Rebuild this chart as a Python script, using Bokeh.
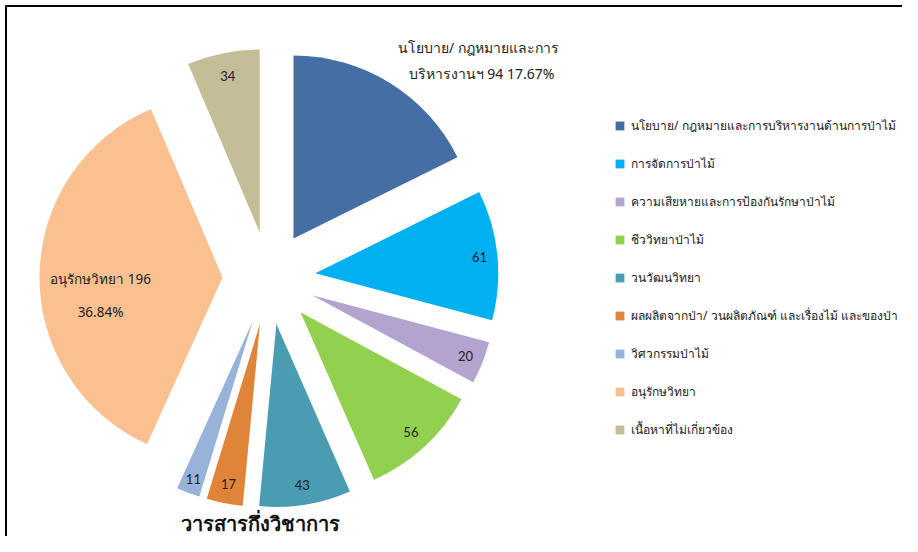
import math
from bokeh.plotting import figure
from bokeh.models import ColumnDataSource, Range1d, Legend, LegendItem
from bokeh.core.properties import value
from bokeh.embed import file_html
from bokeh.resources import INLINE

# ---------------- data ----------------
categories = [
    "นโยบาย/ กฎหมายและการบริหารงานด้านการป่าไม้",
    "การจัดการป่าไม้",
    "ความเสียหายและการป้องกันรักษาป่าไม้",
    "ชีววิทยาป่าไม้",
    "วนวัฒนวิทยา",
    "ผลผลิตจากป่า/ วนผลิตภัณฑ์ และเรื่องไม้ และของป่า",
    "วิศวกรรมป่าไม้",
    "อนุรักษวิทยา",
    "เนื้อหาที่ไม่เกี่ยวข้อง",
]
counts = [94, 61, 20, 56, 43, 17, 11, 196, 34]
colors = ["#456EA5", "#00B0F0", "#B3A3CF", "#92D050", "#4A9CB2",
          "#E0843A", "#98B2DA", "#FAC090", "#C4BD97"]
title_text = "วารสารกึ่งวิชาการ"

# ---------------- layout (screen pixels) ----------------
W, H = 902, 536
CX, CY = 268.5, 277.5     # pie centre
R = 183                   # radius
D = 46.5                  # explode distance
label_r = [0, 165, 165, 163, 163, 163, 168, 122, 160]

total = sum(counts)
xs, ys, starts, ends, lx, ly = [], [], [], [], [], []
cum = 0.0
for i, c in enumerate(counts):
    t1 = cum / total * 2 * math.pi
    cum += c
    t2 = cum / total * 2 * math.pi
    mid = (t1 + t2) / 2
    ax = CX + D * math.sin(mid)
    ay = CY - D * math.cos(mid)
    xs.append(ax)
    ys.append(-ay)
    starts.append(math.pi / 2 - t2)
    ends.append(math.pi / 2 - t1)
    lx.append(ax + label_r[i] * math.sin(mid))
    ly.append(-(ay - label_r[i] * math.cos(mid)))

src = ColumnDataSource(dict(x=xs, y=ys, start=starts, end=ends,
                            color=colors, cat=categories))

p = figure(width=W, height=H, output_backend="svg", toolbar_location=None,
           x_range=Range1d(0, W), y_range=Range1d(-H, 0),
           x_axis_type=None, y_axis_type=None, min_border=0)
p.grid.visible = False
p.outline_line_color = None
p.background_fill_color = "white"

r = p.wedge(x="x", y="y", radius=R, start_angle="start", end_angle="end",
            color="color", line_color=None, source=src)

# frame lines (top and left)
p.line(x=[5.5, 5.5], y=[-5, -H], line_color="black", line_width=2)
p.line(x=[5, W], y=[-5.5, -5.5], line_color="black", line_width=2)

THAI = "Noto Sans"
thai_font = value(THAI)
num_font = value("Lato")

# small number labels (slices 1..6, 8)
idx = [1, 2, 3, 4, 5, 6, 8]
p.text(x=[lx[i] for i in idx], y=[ly[i] for i in idx],
       text=[str(counts[i]) for i in idx],
       text_align="center", text_baseline="middle",
       text_font=num_font, text_font_size="13px", text_color="#222222")

pct = [f"{c / total * 100:.2f}%" for c in counts]

# label for the first (blue) slice, placed outside above
p.text(x=[478, 481], y=[-47, -73],
       text=["นโยบาย/ กฎหมายและการ", f"บริหารงานฯ {counts[0]} {pct[0]}"],
       text_align="center", text_baseline="middle",
       text_font=thai_font, text_font_size="14px", text_color="#222222")

# label for the large peach slice
p.text(x=[lx[7], lx[7]], y=[ly[7] - 3, ly[7] - 36],
       text=[f"{categories[7]} {counts[7]}", pct[7]],
       text_align="center", text_baseline="middle",
       text_font=thai_font, text_font_size="13.5px", text_color="#222222")

# bottom caption
p.text(x=[260], y=[-523], text=[title_text], text_align="center",
       text_baseline="middle", text_font=thai_font, text_font_size="20px",
       text_font_style="bold", text_color="#111111")

items = [LegendItem(label=categories[i], renderers=[r], index=i)
         for i in range(len(categories))]
legend = Legend(items=items, location=(614, 97), padding=0, margin=0,
                spacing=18, glyph_width=11, glyph_height=11, label_height=20,
                label_standoff=6, label_text_font=THAI,
                label_text_font_size="12px", label_text_color="#222222",
                border_line_color=None, background_fill_alpha=0)
p.add_layout(legend)

open("out.html", "w").write(file_html(p, INLINE))
